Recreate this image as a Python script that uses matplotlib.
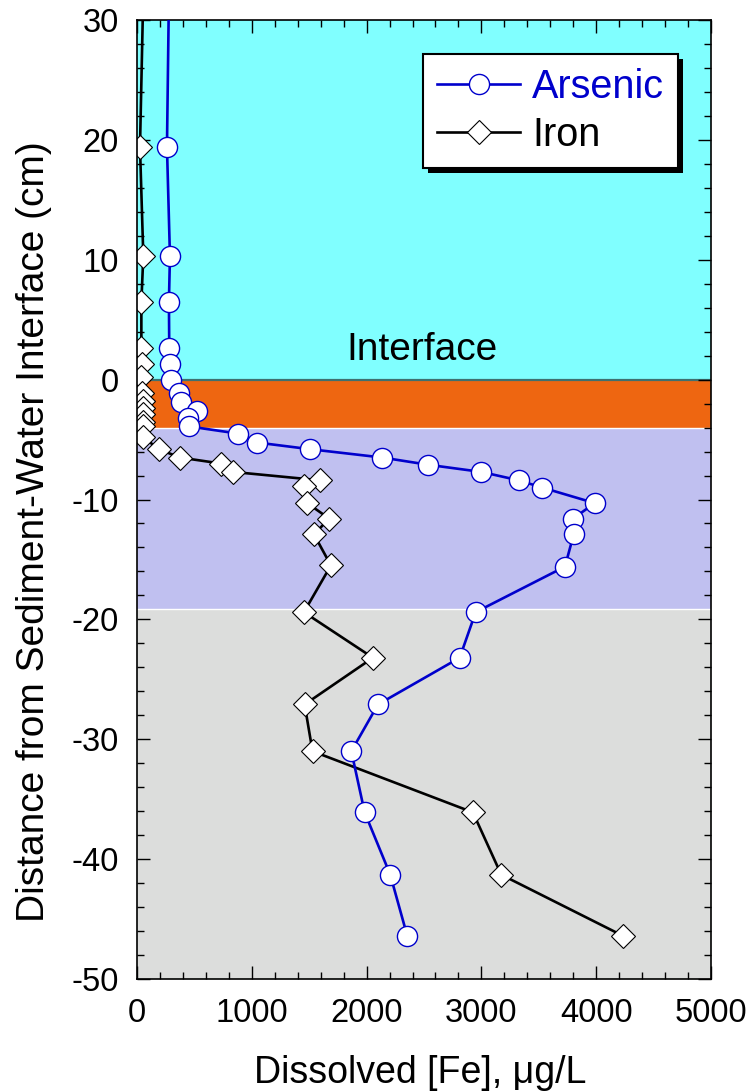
import matplotlib
matplotlib.use("Agg")
import matplotlib.pyplot as plt
from matplotlib.patches import Rectangle
from matplotlib.transforms import IdentityTransform
from matplotlib.ticker import MultipleLocator

plt.rcParams['font.family'] = ['Liberation Sans', 'DejaVu Sans']
plt.rcParams['axes.unicode_minus'] = False

# ---- data ----
as_depth = [35, 19.4, 10.3, 6.5, 2.6, 1.3, 0.0, -1.1, -1.9, -2.6, -3.2, -3.9, -4.5, -5.25,
            -5.8, -6.5, -7.1, -7.7, -8.4, -9.0, -10.3, -11.6, -12.9, -15.6, -19.4,
            -23.2, -27.1, -31.0, -36.1, -41.3, -46.4]
as_conc = [282, 261, 287, 278, 281, 287, 293, 366, 383, 520, 441, 450, 880, 1048,
           1504, 2137, 2535, 3000, 3325, 3528, 3987, 3798, 3804, 3728, 2950,
           2811, 2099, 1867, 1983, 2206, 2354]

fe_depth = [35, 19.4, 10.3, 6.5, 2.6, 1.3, 0.2, -1.1, -1.8, -2.4, -2.9, -3.5, -3.9, -4.8,
            -5.8, -6.5, -7.0, -7.7, -8.4, -8.9, -10.3, -11.6, -12.9, -15.5, -19.4,
            -23.2, -27.1, -31.0, -36.1, -41.3, -46.4]
fe_conc = [61, 26, 55, 38, 38, 44, 38, 45, 50, 55, 50, 55, 50, 55,
           189, 374, 733, 836, 1594, 1454, 1483, 1675, 1541, 1689, 1454,
           2055, 1460, 1529, 2926, 3173, 4233]

# zones (depth boundaries)
zone_bounds = [30, 0, -4, -19.1, -50]
zone_colors = ['#80FFFF', '#EE6611', '#C0C0F0', '#DCDDDC']

x_ticks = [0, 1000, 2000, 3000, 4000, 5000]
y_ticks = [-50, -40, -30, -20, -10, 0, 10, 20, 30]

W, H = 751, 1091
fig = plt.figure(figsize=(W / 100, H / 100), dpi=100)
ax = fig.add_axes([137 / W, 1 - 979 / H, (711 - 137) / W, (979 - 20) / H])

for top, bot, c in zip(zone_bounds[:-1], zone_bounds[1:], zone_colors):
    ax.axhspan(bot, top, color=c, zorder=0, lw=0)
ax.axhline(-4, color='white', lw=1.0, zorder=0.5)
ax.axhline(-19.1, color='white', lw=1.0, zorder=0.5)
ax.axhline(0, color='#3F7070', lw=1.6, zorder=0.6)

ax.plot(as_conc, as_depth, color='#0000CC', lw=1.9, marker='o', ms=14.5,
        mfc='white', mec='#0000CC', mew=1.0, label='Arsenic', zorder=3)
ax.plot(fe_conc, fe_depth, color='black', lw=1.9, marker='D', ms=12.5,
        mfc='white', mec='black', mew=0.8, label='Iron', zorder=2)

ax.text(2480, 2.5, 'Interface', fontsize=28, ha='center', va='center', zorder=4)

ax.set_xlim(0, 5000)
ax.set_ylim(-50, 30)
ax.set_xticks(x_ticks)
ax.set_yticks(y_ticks)
ax.xaxis.set_minor_locator(MultipleLocator(200))
ax.yaxis.set_minor_locator(MultipleLocator(2))
ax.tick_params(which='both', direction='in', top=True, right=True, width=1.0, colors='black')
ax.tick_params(which='major', length=9.5)
ax.tick_params(which='minor', length=5)
ax.tick_params(axis='x', which='major', labelsize=23.5, pad=14)
ax.tick_params(axis='y', which='major', labelsize=23.5, pad=13)
for s in ax.spines.values():
    s.set_linewidth(1.2)

ax.set_xlabel('Dissolved [Fe], μg/L', fontsize=27)
ax.set_ylabel('Distance from Sediment-Water Interface (cm)', fontsize=28)
ax.xaxis.set_label_coords(0.493, -0.079)
ax.yaxis.set_label_coords(-0.148, 0.466)

leg = ax.legend(loc='upper right', bbox_to_anchor=(0.9425, 0.9645), borderaxespad=0,
                fontsize=28.5, fancybox=False, framealpha=1, edgecolor='black',
                handlelength=2.1, handletextpad=0.3, borderpad=0.35, labelspacing=0.25)
leg.get_frame().set_linewidth(1.5)
leg.set_zorder(10)
leg.get_texts()[0].set_color('#0000CC')

fig.canvas.draw()
bb = leg.get_window_extent()
shadow = Rectangle((bb.x0 + 5, bb.y0 - 5), bb.width, bb.height, transform=IdentityTransform(),
                   facecolor='black', edgecolor='none', zorder=9)
ax.add_artist(shadow)

fig.savefig('out.png', dpi=100)
